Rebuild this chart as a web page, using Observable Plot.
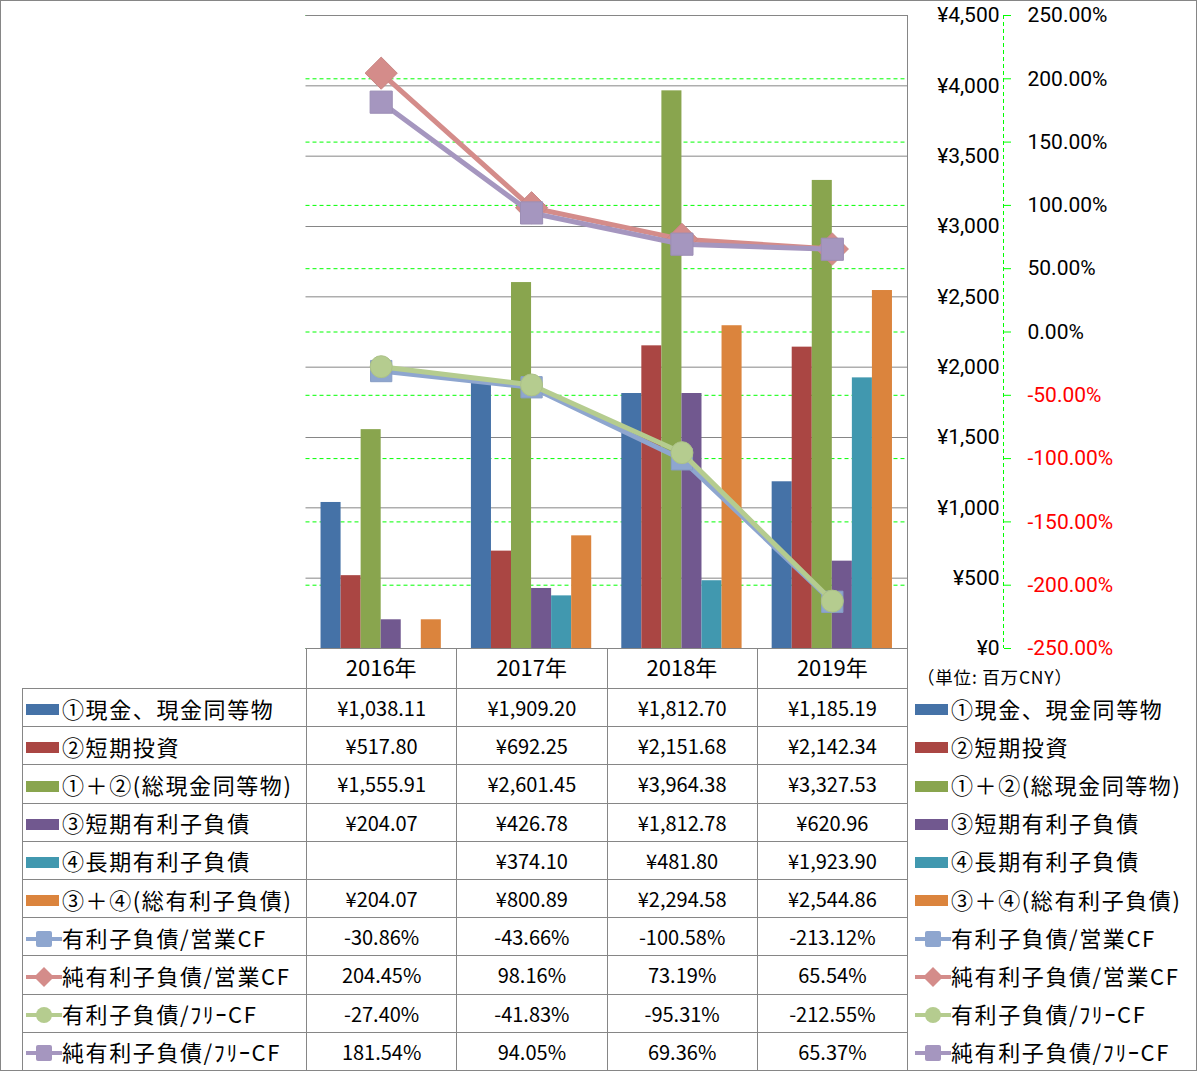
<!DOCTYPE html>
<html><head><meta charset="utf-8">
<script src="https://cdn.jsdelivr.net/npm/d3@7"></script>
<script src="https://cdn.jsdelivr.net/npm/@observablehq/plot@0.6"></script>
<style>
html,body{margin:0;padding:0;background:#fff;}
#wrap{position:relative;width:1197px;height:1071px;overflow:hidden;font-family:"Noto Sans CJK JP",sans-serif;color:#000;}
#chart{position:absolute;left:0;top:0;}
#frame{position:absolute;left:0;top:0;width:1197px;height:1071px;box-sizing:border-box;border:1px solid #868686;pointer-events:none;}
#tbl{position:absolute;left:22px;top:648px;border-collapse:collapse;table-layout:fixed;width:1175px;}
#tbl td{border:1px solid #868686;padding:0;font-size:20px;text-align:center;white-space:nowrap;overflow:visible;background:transparent;}
#tbl tr.head td{height:39px;}
#tbl tr.body td{height:37.2px;}
#tbl td.corner{border-top:none;border-left:none;}
#tbl td.lab{text-align:left;font-size:22px;letter-spacing:1.6px;padding-left:3px;}
#tbl td.leg{border:none;text-align:left;font-size:22px;letter-spacing:1.6px;padding-left:7px;}
.sw{display:inline-block;width:33px;height:11px;margin-right:3px;vertical-align:middle;position:relative;top:-2px;}
.lsw{display:inline-block;width:36px;height:24px;vertical-align:middle;position:relative;top:-2px;}
#unit{position:absolute;left:917px;top:664px;font-size:17.5px;letter-spacing:0.8px;}
</style>
</head><body>
<div id="wrap">
  <div id="chart"></div>
  <table id="tbl"></table>
  <div id="unit">（単位: 百万CNY）</div>
  <div id="frame"></div>
</div>
<script>
// ---- data ----
const years = ["2016年", "2017年", "2018年", "2019年"];
const cash = [1038.11, 1909.20, 1812.70, 1185.19];
const shortInv = [517.80, 692.25, 2151.68, 2142.34];
const totalCash = [1555.91, 2601.45, 3964.38, 3327.53];
const shortDebt = [204.07, 426.78, 1812.78, 620.96];
const longDebt = [null, 374.10, 481.80, 1923.90];
const totalDebt = [204.07, 800.89, 2294.58, 2544.86];
const debtOpCF = [-30.86, -43.66, -100.58, -213.12];
const netDebtOpCF = [204.45, 98.16, 73.19, 65.54];
const debtFreeCF = [-27.40, -41.83, -95.31, -212.55];
const netDebtFreeCF = [181.54, 94.05, 69.36, 65.37];
const barNames = ["①現金、現金同等物", "②短期投資", "①＋②(総現金同等物)", "③短期有利子負債", "④長期有利子負債", "③＋④(総有利子負債)"];
const lineNames = ["有利子負債/営業CF", "純有利子負債/営業CF", "有利子負債/ﾌﾘｰCF", "純有利子負債/ﾌﾘｰCF"];
const yenTicks = [0, 500, 1000, 1500, 2000, 2500, 3000, 3500, 4000, 4500];
const pctTicks = [-250, -200, -150, -100, -50, 0, 50, 100, 150, 200, 250];

// ---- styles ----
const barColors = ["#4572A7", "#AA4643", "#89A54E", "#71588F", "#4198AF", "#DB843D"];
const lineColors = ["#8EA6CF", "#D48C8A", "#B5CC8F", "#A596BF"];
const lineSymbols = ["square", "diamond2", "circle", "square"];
const lineR = [12, 14.5, 11, 12.5];
const axisFont = "Roboto, 'Noto Sans', sans-serif";

const barSeries = [cash, shortInv, totalCash, shortDebt, longDebt, totalDebt];
const lineSeries = [debtOpCF, netDebtOpCF, debtFreeCF, netDebtFreeCF];

// secondary axis (-250%..250%) mapped onto primary (0..4500)
const pctToYen = p => (p + 250) * 4500 / 500;
const idx = years.map((_, i) => i);
const nB = barSeries.length;
const groupW = 0.8;

const marks = [];
marks.push(Plot.ruleY(pctTicks.map(pctToYen), {stroke: "#00FF00", strokeWidth: 1, strokeDasharray: "4,3"}));
marks.push(Plot.gridY(yenTicks, {stroke: "#868686", strokeOpacity: 1, strokeWidth: 1}));
marks.push(Plot.ruleX([3.5], {stroke: "#868686", strokeWidth: 1}));
barSeries.forEach((vals, k) => {
  const data = idx.filter(i => vals[i] != null).map(i => ({i, v: vals[i]}));
  marks.push(Plot.rectY(data, {
    x1: d => d.i - groupW / 2 + k * groupW / nB,
    x2: d => d.i - groupW / 2 + (k + 1) * groupW / nB,
    y1: 0, y2: d => d.v, fill: barColors[k], inset: 0
  }));
});
marks.push(Plot.ruleY([0], {stroke: "#868686", strokeWidth: 1}));
lineSeries.forEach((vals, k) => {
  marks.push(Plot.line(idx, {x: i => i, y: i => pctToYen(vals[i]), stroke: lineColors[k], strokeWidth: 5, strokeLinejoin: "round"}));
  marks.push(Plot.dot(idx, {x: i => i, y: i => pctToYen(vals[i]), symbol: lineSymbols[k], r: lineR[k], fill: lineColors[k], stroke: d3.color(lineColors[k]).darker(0.15).formatHex(), strokeWidth: 1}));
});
// x axis (category labels in header row)
marks.push(Plot.axisX(idx, {tickSize: 0, tickPadding: 20, lineAnchor: "middle", tickFormat: i => years[i], fontSize: 22, fill: "#000"}));
// primary y axis labels (right)
marks.push(Plot.axisY(yenTicks, {anchor: "right", tickSize: 0, tickPadding: 0, dx: 92, textAnchor: "end", tickFormat: d => "¥" + d3.format(",")(d), fontSize: 21, fontFamily: axisFont, fill: "#000"}));
// secondary axis line + ticks
marks.push(Plot.ruleX([3.5], {dx: 96, stroke: "#00FF00", strokeWidth: 1, strokeDasharray: "4,3"}));
marks.push(Plot.axisY(pctTicks.map(pctToYen), {anchor: "right", tickSize: 7, tickPadding: 0, dx: 96, tickFormat: () => "", stroke: "#00FF00"}));
// secondary axis labels
marks.push(Plot.text(pctTicks.filter(p => p >= 0), {y: pctToYen, text: p => p.toFixed(2) + "%", frameAnchor: "right", dx: 120, textAnchor: "start", fill: "#000", fontSize: 21, fontFamily: axisFont}));
marks.push(Plot.text(pctTicks.filter(p => p < 0), {y: pctToYen, text: p => p.toFixed(2) + "%", frameAnchor: "right", dx: 120, textAnchor: "start", fill: "#FF0000", fontSize: 21, fontFamily: axisFont}));

const chart = Plot.plot({
  width: 1197, height: 688,
  marginLeft: 305.5, marginRight: 290, marginTop: 15, marginBottom: 40,
  x: {type: "linear", domain: [-0.5, 3.5]},
  y: {domain: [0, 4500], label: null},
  style: {fontFamily: "'Noto Sans CJK JP', sans-serif", fontSize: "20px", background: "transparent", overflow: "visible", color: "#000"},
  marks
});
document.getElementById("chart").appendChild(chart);

// ---- data table with legend keys ----
function barKey(k) { return `<span class="sw" style="background:${barColors[k]}"></span>`; }
function lineKey(k) {
  const c = lineColors[k];
  let m;
  if (lineSymbols[k] === "square") m = `<rect x="10" y="4" width="16" height="16" rx="2" fill="${c}"/>`;
  else if (lineSymbols[k] === "diamond2") m = `<path d="M18,2L28,12L18,22L8,12Z" fill="${c}"/>`;
  else m = `<circle cx="18" cy="12" r="8" fill="${c}"/>`;
  return `<svg class="lsw" viewBox="0 0 36 24"><line x1="0" y1="12" x2="36" y2="12" stroke="${c}" stroke-width="4"/>${m}</svg>`;
}
const fmtYen = v => v == null ? "" : "¥" + d3.format(",.2f")(v);
const fmtPct = v => v == null ? "" : v.toFixed(2) + "%";

let html = `<colgroup><col style="width:284px"><col style="width:150.25px"><col style="width:150.25px"><col style="width:150.25px"><col style="width:150.25px"><col style="width:290px"></colgroup>`;
html += `<tr class="head"><td class="corner"></td>${years.map(() => "<td></td>").join("")}<td class="leg"></td></tr>`;
barSeries.forEach((vals, k) => {
  html += `<tr class="body"><td class="lab">${barKey(k)}${barNames[k]}</td>${vals.map(v => `<td>${fmtYen(v)}</td>`).join("")}<td class="leg">${barKey(k)}${barNames[k]}</td></tr>`;
});
lineSeries.forEach((vals, k) => {
  html += `<tr class="body"><td class="lab">${lineKey(k)}${lineNames[k]}</td>${vals.map(v => `<td>${fmtPct(v)}</td>`).join("")}<td class="leg">${lineKey(k)}${lineNames[k]}</td></tr>`;
});
document.getElementById("tbl").innerHTML = html;
</script>
</body></html>
